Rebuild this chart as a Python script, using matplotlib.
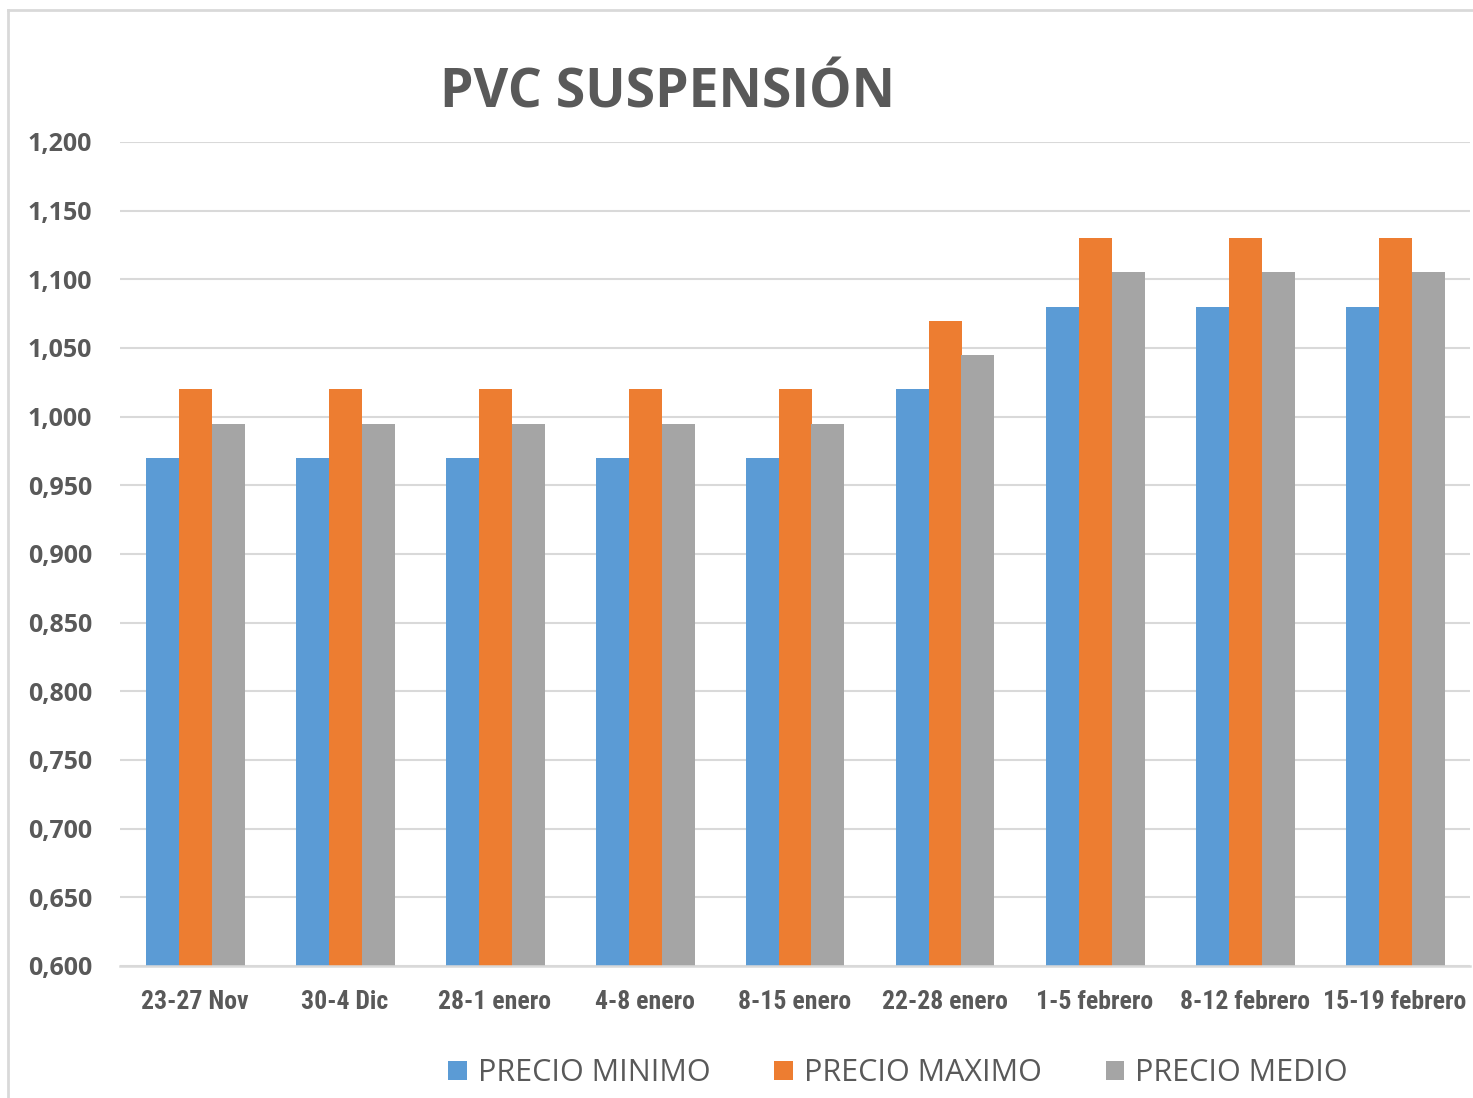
import matplotlib
matplotlib.use("Agg")
import matplotlib.pyplot as plt
from matplotlib.lines import Line2D
from matplotlib.patches import Patch
import numpy as np

categories = ["23-27 Nov", "30-4 Dic", "28-1 enero", "4-8 enero", "8-15 enero",
              "22-28 enero", "1-5 febrero", "8-12 febrero", "15-19 febrero"]
precio_minimo = [0.970, 0.970, 0.970, 0.970, 0.970, 1.020, 1.080, 1.080, 1.080]
precio_maximo = [1.020, 1.020, 1.020, 1.020, 1.020, 1.070, 1.130, 1.130, 1.130]
precio_medio = [0.995, 0.995, 0.995, 0.995, 0.995, 1.045, 1.105, 1.105, 1.105]
series_names = ["PRECIO MINIMO", "PRECIO MAXIMO", "PRECIO MEDIO"]
colors = ["#5b9bd5", "#ed7d31", "#a5a5a5"]
yticks = [0.600, 0.650, 0.700, 0.750, 0.800, 0.850, 0.900, 0.950,
          1.000, 1.050, 1.100, 1.150, 1.200]

text_color = "#595959"
grid_color = "#d9d9d9"

fig = plt.figure(figsize=(14.73, 10.98), dpi=100)
ax = fig.add_axes([120/1473, 1-966/1098, 1350/1473, 824/1098])

x = np.arange(len(categories))
w = 0.22
for i, (vals, c) in enumerate(zip([precio_minimo, precio_maximo, precio_medio], colors)):
    ax.bar(x + (i - 1) * w, vals, width=w, color=c, zorder=3, label=series_names[i])

ax.set_xlim(-0.5, len(categories) - 0.5)
ax.set_ylim(0.6, 1.2)
ax.set_yticks(yticks)
ax.set_yticklabels([f"{v:.3f}".replace(".", ",") for v in yticks],
                   fontfamily=["Open Sans", "DejaVu Sans"], fontweight="bold",
                   fontsize=18, color=text_color)
ax.set_xticks(x)
ax.set_xticklabels(categories,
                   fontfamily=["Roboto Condensed", "Arial Narrow", "Liberation Sans Narrow",
                               "Roboto", "DejaVu Sans"],
                   fontweight="bold", fontsize=18.5, color=text_color)
ax.tick_params(axis="both", length=0)
ax.tick_params(axis="y", pad=20)
ax.tick_params(axis="x", pad=17)
ax.grid(axis="y", color=grid_color, linewidth=1.5, zorder=0)
for s in ["top", "right", "left"]:
    ax.spines[s].set_visible(False)
ax.spines["bottom"].set_color(grid_color)
ax.spines["bottom"].set_linewidth(1.8)
ax.spines["bottom"].set_zorder(4)

fig.text(667/1473, 1-94/1098, "PVC SUSPENSIÓN", ha="center", va="center",
         fontsize=38.5, fontweight="bold", color=text_color,
         fontfamily=["Open Sans", "DejaVu Sans"])

# chart border (left and top visible)
fig.add_artist(Line2D([8/1473, 8/1473], [0, 1-10/1098], transform=fig.transFigure,
                      color=grid_color, linewidth=2))
fig.add_artist(Line2D([8/1473, 1], [1-10/1098, 1-10/1098], transform=fig.transFigure,
                      color=grid_color, linewidth=2))

handles = [Patch(facecolor=c, edgecolor="none") for c in colors]
leg = fig.legend(handles, series_names, loc="center", bbox_to_anchor=(898/1473, 1-1073/1098),
                 ncol=3, frameon=False, handlelength=0.6, handleheight=0.6,
                 handletextpad=0.36, columnspacing=2.1,
                 prop={"family": ["Open Sans", "DejaVu Sans"], "size": 22})
for t in leg.get_texts():
    t.set_color(text_color)

fig.savefig("out.png", dpi=100, facecolor="white")
